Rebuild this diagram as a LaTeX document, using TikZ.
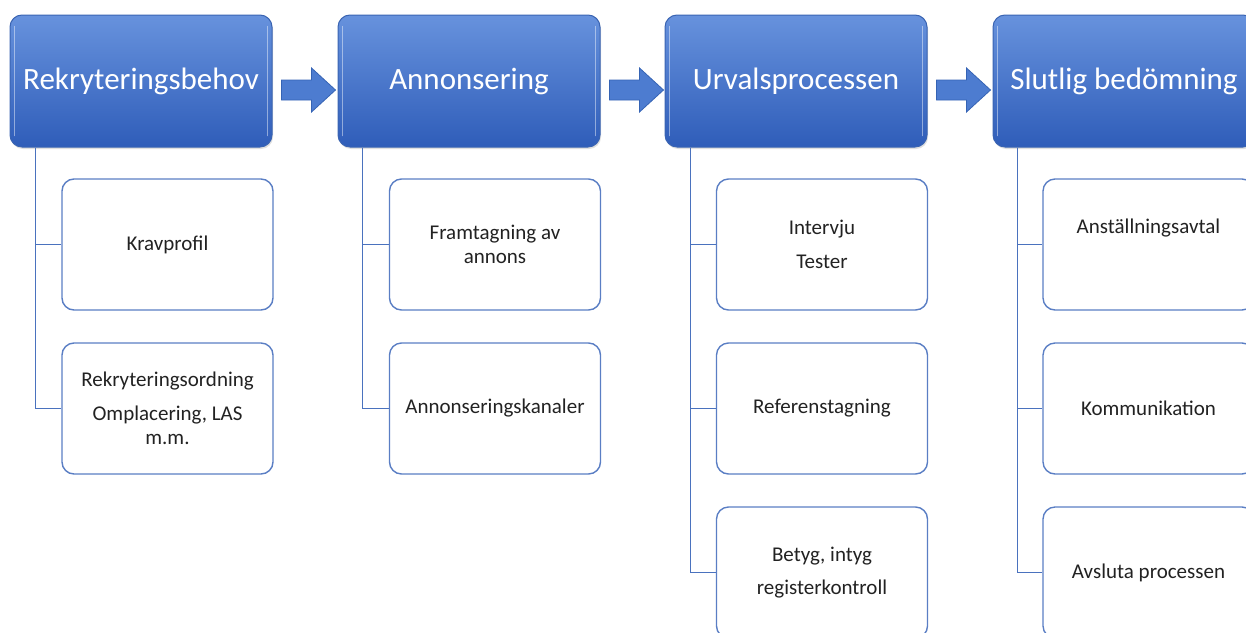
\documentclass[tikz,border=0pt]{standalone}
\usepackage{fontspec}
\setmainfont{Carlito}
\usetikzlibrary{shadows}
\definecolor{hdtop}{HTML}{6792DD}
\definecolor{hdbot}{HTML}{2F5DB9}
\definecolor{hdline}{HTML}{3A64B2}
\definecolor{linkblue}{HTML}{4A72BE}
\definecolor{boxblue}{HTML}{5A7EC4}
\definecolor{arrowfill}{HTML}{4D7CD0}
\definecolor{arrowline}{HTML}{3563B4}
\definecolor{txt}{HTML}{222222}
\begin{document}
\begin{tikzpicture}[x=1pt,y=-1pt,
  header/.style={rounded corners=12pt, minimum width=262pt, minimum height=132pt,
    top color=hdtop, bottom color=hdbot, draw=hdline, line width=1pt, text=white,
    font=\fontsize{31}{37}\selectfont, inner sep=0pt,
    drop shadow={shadow xshift=1pt, shadow yshift=-2pt, opacity=0.25}},
  child/.style={rounded corners=12pt, minimum width=211pt, minimum height=131pt,
    draw=boxblue, line width=1.4pt, fill=white, align=center, text=txt,
    font=\fontsize{21}{24}\selectfont, inner sep=0pt},
  lbl/.style={align=center, text=txt, font=\fontsize{21}{24}\selectfont, inner sep=0pt},
  linkline/.style={draw=linkblue, line width=1.7pt},
  flowarrow/.style={fill=arrowfill, draw=arrowline, line width=0.8pt, line join=miter},
  shine/.style={draw=white, opacity=0.45, line width=1.5pt, line cap=round}]
\useasboundingbox (0,0) rectangle (1246,632);
\clip (0,0) rectangle (1246,632);

% headers
\node[header] (h1) at (141,81) {Rekryteringsbehov};
\node[header] (h2) at (469,81) {Annonsering};
\node[header] (h3) at (796,81) {Urvalsprocessen};
\node[header] (h4) at (1124,81) {Slutlig bedömning};

\foreach \h in {h1,h2,h3,h4}{
  \draw[shine] ([xshift=5pt,yshift=-12pt]\h.north west) -- ([xshift=5pt,yshift=12pt]\h.south west);
  \draw[shine] ([xshift=-5pt,yshift=-12pt]\h.north east) -- ([xshift=-5pt,yshift=12pt]\h.south east);
}

% arrows between headers
\foreach \h in {h1,h2,h3}{
  \draw[flowarrow, shift={(\h.east)}]
    (9,-1) -- (39,-1) -- (39,-13) -- (63,9) -- (39,31) -- (39,19) -- (9,19) -- cycle;
}

% column 1
\node[child] (a1) at (167.5,244.5) {Kravprofil};
\node[child] (a2) at (167.5,408.5) {Rekryteringsordning\\[10pt]Omplacering, LAS\\m.m.};
% column 2
\node[child] (b1) at (495,244.5) {Framtagning av\\annons};
\node[child] (b2) at (495,408.5) {Annonseringskanaler};
% column 3
\node[child] (c1) at (822,244.5) {Intervju\\[10pt]Tester};
\node[child] (c2) at (822,408.5) {Referenstagning};
\node[child] (c3) at (822,572.5) {Betyg, intyg\\[9pt]registerkontroll};
% column 4
\node[child] (d1) at (1148.5,244.5) {};
\node[lbl] (d1t) at (1148.5,228) {Anställningsavtal};
\node[child] (d2) at (1148.5,408.5) {Kommunikation};
\node[child] (d3) at (1148.5,572.5) {Avsluta processen};

% connectors
\draw[linkline] ([xshift=26pt]h1.south west) |- (a1.west);
\draw[linkline] ([xshift=26pt]h1.south west) |- (a2.west);
\draw[linkline] ([xshift=25pt]h2.south west) |- (b1.west);
\draw[linkline] ([xshift=25pt]h2.south west) |- (b2.west);
\draw[linkline] ([xshift=26pt]h3.south west) |- (c1.west);
\draw[linkline] ([xshift=26pt]h3.south west) |- (c2.west);
\draw[linkline] ([xshift=26pt]h3.south west) |- (c3.west);
\draw[linkline] ([xshift=25pt]h4.south west) |- (d1.west);
\draw[linkline] ([xshift=25pt]h4.south west) |- (d2.west);
\draw[linkline] ([xshift=25pt]h4.south west) |- (d3.west);
\end{tikzpicture}
\end{document}
